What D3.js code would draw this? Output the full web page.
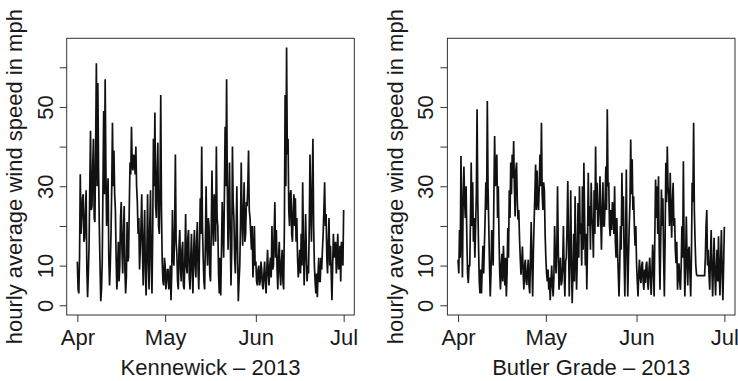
<!DOCTYPE html>
<html>
<head>
<meta charset="utf-8">
<script src="https://cdn.jsdelivr.net/npm/d3@7/dist/d3.min.js"></script>
<style>
    body { margin: 0; background: #fff; }
    svg text { font-family: "Liberation Sans", Arial, Helvetica, sans-serif; fill: #1a1a1a; }
</style>
</head>
<body>
<div class="d3-graph wind-speed"></div>
<script>
// 6-hourly readings, starting 2013-04-01 00:00 (one group = one day)
var startDate = Date.UTC(2013, 3, 1);
var stepHours = 6;

var kennewick = [
    11, 4, 3, 12,   33, 18, 22, 27,   28, 16, 17, 24,   29, 9, 2, 8,   15, 30, 44, 24,
    25, 35, 42, 22,   21, 40, 61, 30,   56, 34, 20, 10,   1, 4, 11, 30,   49, 28, 57, 35,
    20, 26, 32, 12,   5, 10, 18, 30,   46, 30, 39, 28,   24, 12, 4, 9,   16, 6, 10, 22,
    26, 14, 8, 18,   25, 9, 3, 7,   21, 11, 12, 25,   36, 33, 45, 35,   34, 38, 37, 33,
    40, 30, 26, 18,   22, 9, 14, 20,   28, 14, 5, 17,   24, 8, 2.5, 13,   28, 12, 4, 20,
    29, 10, 3, 18,   42, 30, 48.6, 25,   22, 34, 41, 20,   18, 30, 53, 24,   11, 6, 5, 12,
    10, 4, 6, 9,   9, 4, 5.5, 10,   1.3, 8, 24, 12,   10, 20, 38, 16,   13, 6, 4, 15,
    19, 9, 6, 14,   16, 5, 4, 12,   23, 10, 8, 17,   19, 7, 4, 12,   18, 8, 3, 14,
    19, 10, 7, 16,   21, 9, 4, 15,   27, 18, 40, 20,   12, 6, 4, 16,   30, 15, 10, 22,
    20, 8, 6, 18,   34, 20, 15, 28,   25, 16, 40, 22,   20, 8, 3, 12,   2.5, 14, 26, 18,
    12, 28, 45, 30,   57, 30, 14, 24,   36, 18, 5, 14,   40, 26, 22, 12,   8, 18, 30, 14,
    1, 6, 10, 20,   36, 22, 15, 24,   31, 16, 18, 26,   25, 30, 39, 24,   22, 18, 14, 20,
    7, 12, 20, 10,   11, 6, 5, 9,   10, 5, 6, 11,   9, 5, 4, 8,   11, 6, 3, 9,
    14, 8, 5, 10,   12, 7, 20, 9,   10, 18, 26, 12,   19, 9, 4, 12,   16, 8, 5, 11,
    14, 6, 4, 20,   53, 30, 65, 38,   42, 24, 20, 28,   29, 18, 16, 24,   28, 20, 27, 16,
    22, 12, 7, 10,   14, 8, 18, 10,   31, 16, 5, 12,   23, 14, 6, 10,   8, 20, 38, 24,
    16, 30, 42, 20,   10, 6, 3, 8,   2, 8, 12, 6,   6, 12, 9, 14,   18, 24, 31, 20,
    23, 12, 8, 16,   22, 10, 15, 8,   1.3, 10, 18, 12,   14, 16, 8, 13,   18, 9, 10, 15,
    6, 16, 14, 10,
    24
];

var butlerGrade = [
    11.5, 8, 19, 12,   37.6, 20, 7, 28,   35, 26, 22, 30,   17, 8, 5.6, 10,   10, 22, 36, 20,
    31, 16, 22, 12,   20, 28, 49.4, 26,   15, 6, 3, 9,   3, 9, 15, 8,   15, 22, 31, 24,
    51.5, 30, 20, 10,   2.2, 8, 19, 14,   10, 28, 42.7, 30,   32.5, 38, 22, 30,   17, 8, 4, 10,
    13, 6, 15, 9,   5, 12, 2.2, 8,   19.5, 12, 29, 22,   36, 28, 38, 32,   41.4, 30, 22.4, 34,
    36, 26, 21.6, 24,   17, 12, 7.7, 11,   14.8, 8, 4, 10,   11.5, 6, 5.1, 9,   11.5, 5, 3, 12,
    21, 10, 2.2, 14,   21, 28, 35.5, 24,   34, 26, 24, 30,   38, 30, 46, 28,   24, 31, 29, 18,
    12, 8, 6, 9,   3.9, 7, 1.3, 6,   10, 5, 2.2, 7,   20, 12, 8, 14,   30, 14, 3.9, 9,
    12, 5, 6, 10,   20, 9, 2.2, 11,   12, 20, 31.3, 16,   2.2, 14, 29, 10,   0.5, 8, 18, 6,
    27.5, 14, 3.9, 12,   25.8, 12, 30, 18,   20.7, 10, 30, 14,   35.9, 22, 10, 18,   4, 16, 33.4, 20,
    25, 14, 30.9, 22,   20, 12, 29, 18,   40, 24, 30.9, 20,   20, 26, 32.5, 22,   14, 24, 31, 20,
    20, 26, 35, 24,   49.4, 30, 31, 20,   17.4, 24, 19, 26,   24, 18, 30, 16,   12, 22, 14, 8,
    2.2, 10, 20, 14,   33.4, 20, 27.5, 12,   2.2, 16, 34.2, 14,   2.2, 12, 20, 26,   41.8, 28, 36.8, 24,
    27.5, 20, 15, 20,   10.6, 6, 2.2, 8,   11.5, 7, 5.6, 10,   11, 6, 3.9, 9,   5.6, 10, 11, 6,
    3.9, 9, 12, 7,   2.6, 8, 15.3, 10,   2.2, 18, 31.7, 22,   30, 18, 32.5, 14,   3.9, 16, 29.2, 20,
    27, 12, 2.2, 16,   35.9, 26, 40, 30,   27.5, 20, 33.4, 24,   17, 26, 30.9, 20,   22, 14, 10.6, 16,
    3.9, 8, 10.6, 6,   3.9, 10, 19.9, 12,   36.3, 14, 2.2, 10,   22.4, 12, 5, 14,   14.8, 8, 2.2, 12,
    30.9, 26, 46, 24,   16, 10, 7.7, 7.5,   7.5, 7.5, 7.5, 7.5,   7.5, 7.5, 7.5, 7.5,   7.5, 7.5, 12, 20,
    24, 10, 14, 8,   3.9, 12, 19, 9,   2.2, 10, 17, 8,   2.5, 9, 14, 6,   17.4, 8, 2.5, 12,
    19, 8, 1.3, 10,
    19.8
];

var panelTitles = ['Kennewick \u2013 2013', 'Butler Grade \u2013 2013'];
var monthTicks = [Date.UTC(2013, 3, 1), Date.UTC(2013, 4, 1), Date.UTC(2013, 5, 1), Date.UTC(2013, 6, 1)];
var monthLabels = ['Apr', 'May', 'Jun', 'Jul'];
var speedTicks = [0, 10, 20, 30, 40, 50, 60];
var speedLabels = ['0', '10', '', '30', '', '50', ''];
var yTitle = 'hourly average wind speed in mph';

(function () {
    "use strict";

    var config = {
        selector: '.d3-graph.wind-speed',
        width: 738,
        height: 381,
        panelOffset: 380.7,
        box: { left: 66.7, right: 354.3, top: 38.3, bottom: 315 },
        tickSize: 7,
        fontSize: 22,
        yLimits: [-2.45, 67.3]
    };

    function toPoints(values) {
        return values.map(function (v, i) {
            return { t: new Date(startDate + i * stepHours * 3600 * 1000), v: v };
        });
    }

    function drawPanel(svg, values, title, dx) {
        var box = config.box;
        var points = toPoints(values);
        var ext = d3.extent(points, function (d) { return d.t; });
        var pad = (ext[1] - ext[0]) * 0.04;

        var x = d3.scaleUtc()
            .domain([new Date(+ext[0] - pad), new Date(+ext[1] + pad)])
            .range([box.left + dx, box.right + dx]);
        var y = d3.scaleLinear()
            .domain(config.yLimits)
            .range([box.bottom, box.top]);

        var g = svg.append('g');

        var line = d3.line()
            .x(function (d) { return x(d.t); })
            .y(function (d) { return y(d.v); });

        g.append('path')
            .datum(points)
            .attr('d', line)
            .attr('fill', 'none')
            .attr('stroke', '#111')
            .attr('stroke-width', 1.7)
            .attr('stroke-linejoin', 'miter');

        g.append('rect')
            .attr('x', box.left + dx)
            .attr('y', box.top)
            .attr('width', box.right - box.left)
            .attr('height', box.bottom - box.top)
            .attr('fill', 'none')
            .attr('stroke', '#333')
            .attr('stroke-width', 1);

        var xAxis = g.append('g')
            .attr('transform', 'translate(0,' + box.bottom + ')')
            .call(d3.axisBottom(x)
                .tickValues(monthTicks.map(function (d) { return new Date(d); }))
                .tickSize(config.tickSize)
                .tickFormat(function (d, i) { return monthLabels[i]; }));
        xAxis.select('.domain').remove();
        xAxis.selectAll('line').attr('stroke', '#333');
        xAxis.selectAll('text')
            .attr('dy', 0)
            .attr('y', 30)
            .style('font-size', config.fontSize + 'px');

        var yAxis = g.append('g')
            .attr('transform', 'translate(' + (box.left + dx) + ',0)')
            .call(d3.axisLeft(y)
                .tickValues(speedTicks)
                .tickSize(config.tickSize)
                .tickFormat(function (d, i) { return speedLabels[i]; }));
        yAxis.select('.domain').remove();
        yAxis.selectAll('line').attr('stroke', '#333');
        yAxis.selectAll('text')
            .attr('x', null)
            .attr('dy', 0)
            .attr('text-anchor', 'middle')
            .attr('transform', 'translate(-14,0) rotate(-90)')
            .style('font-size', config.fontSize + 'px');

        g.append('text')
            .attr('x', (box.left + box.right) / 2 + dx)
            .attr('y', 375)
            .attr('text-anchor', 'middle')
            .style('font-size', config.fontSize + 'px')
            .text(title);

        g.append('text')
            .attr('transform', 'translate(' + (22 + dx) + ',' + ((box.top + box.bottom) / 2) + ') rotate(-90)')
            .attr('text-anchor', 'middle')
            .style('font-size', config.fontSize + 'px')
            .text(yTitle);
    }

    function drawGraph() {
        var container = d3.select(config.selector).html('');
        var svg = container.append('svg')
            .attr('width', config.width)
            .attr('height', config.height);

        drawPanel(svg, kennewick, panelTitles[0], 0);
        drawPanel(svg, butlerGrade, panelTitles[1], config.panelOffset);
    }

    drawGraph();
})();
</script>
</body>
</html>
